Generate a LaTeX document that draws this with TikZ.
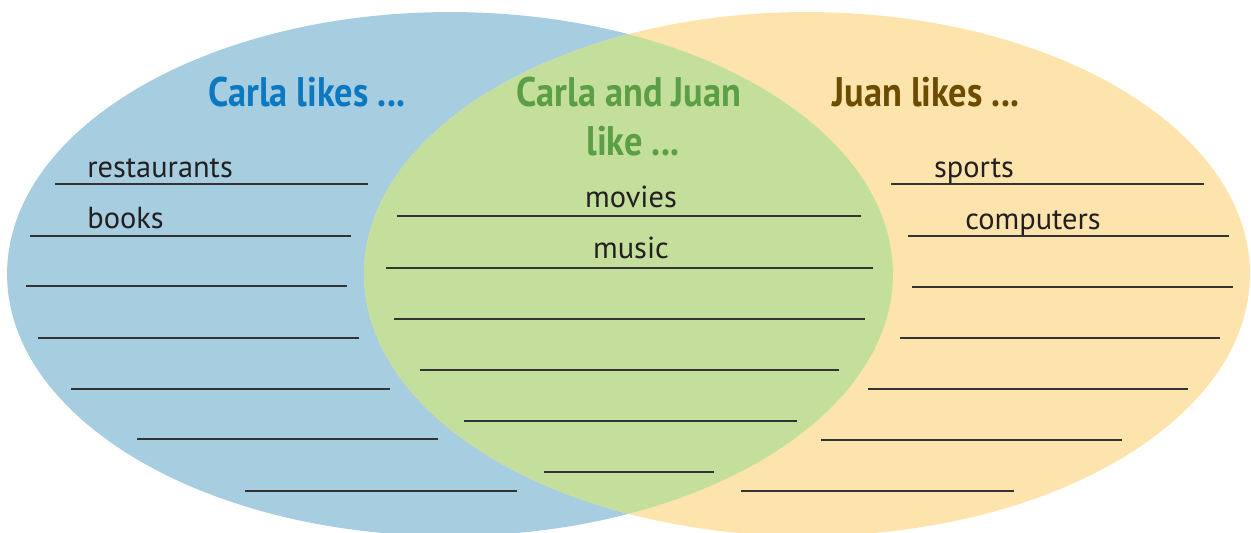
\documentclass[tikz,border=0pt]{standalone}
\usepackage{fontspec}
\setmainfont{PT Sans}
\newfontfamily\titelfont[FakeStretch=0.88]{PT Sans}
\usepackage{xcolor}
\usepackage{tikz}
\usetikzlibrary{positioning}
\definecolor{blaufl}{HTML}{A7CDE0}
\definecolor{gelbfl}{HTML}{FDE4AC}
\definecolor{gruenfl}{HTML}{C4DF9B}
\definecolor{blautitel}{HTML}{0A79C2}
\definecolor{gruentitel}{HTML}{5A9E45}
\definecolor{brauntitel}{HTML}{6B4C00}
\definecolor{linie}{HTML}{333333}
\definecolor{schrift}{HTML}{231F20}
\tikzset{
  Menge/.style={x radius=8.86cm, y radius=5.24cm}, % Ellipsen der Mengen
  Linie/.style={draw=linie, line width=0.85pt}, % Schreiblinien
  Titel/.style={font=\titelfont\bfseries\fontsize{23.5}{26}\selectfont, anchor=base, inner sep=0pt},
  Eintrag/.style={font=\fontsize{17.3}{20}\selectfont, text=schrift, inner sep=0pt}
}

\begin{document}
\begin{tikzpicture}[
x=0.02cm, y=-0.02cm % Pixelraster, y nach unten
]
\useasboundingbox (0,0) rectangle (1251,532);

%Mengen
\fill[blaufl] (450,274) ellipse [Menge];
\fill[gelbfl] (807,274) ellipse [Menge];
\begin{scope}
\clip (450,274) ellipse [Menge];
\fill[gruenfl] (807,274) ellipse [Menge];
\end{scope}

%Schreiblinien
\foreach \y/\a/\b in {184/55/368, 236/30/351, 286/26/347, 338/38/359,
  389/71/390, 439/137/438, 491/245/517}
  \draw[Linie] (\a,\y) -- (\b,\y);
\foreach \y/\a/\b in {216/397/861, 268/386/873, 319/394/865, 370/420/839,
  421/464/797, 472/544/714}
  \draw[Linie] (\a,\y) -- (\b,\y);
\foreach \y/\a/\b in {184/891/1204, 236/908/1229, 287/912/1233, 338/900/1220,
  389/868/1188, 440/821/1122, 491/741/1014}
  \draw[Linie] (\a,\y) -- (\b,\y);

%Ueberschriften
\node[Titel, text=blautitel] (Carla) at (307,106) {Carla likes ...};
\node[Titel, text=gruentitel] (Beide) at (629,106) {Carla and Juan};
\node[Titel, text=gruentitel] (BeideB) at (633,155) {like ...};
\node[Titel, text=brauntitel] (Juan) at (926,106) {Juan likes ...};

%Eintraege
\node[Eintrag, anchor=base west] (Rest) at (87,177) {restaurants};
\node[Eintrag, anchor=base west] (Buch) at (87,228) {books};
\node[Eintrag, anchor=base] (Film) at (631,207) {movies};
\node[Eintrag, anchor=base] (Musik) at (631,258) {music};
\node[Eintrag, anchor=base] (Sport) at (974,177) {sports};
\node[Eintrag, anchor=base] (Comp) at (1033,229) {computers};

\end{tikzpicture}
\end{document}
